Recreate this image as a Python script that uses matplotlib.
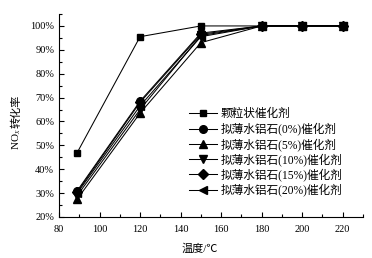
import matplotlib
matplotlib.use("Agg")
import matplotlib.pyplot as plt
from matplotlib.ticker import MultipleLocator, FuncFormatter

plt.rcParams['font.family'] = ['Liberation Serif', 'Noto Sans CJK SC', 'DejaVu Sans']
plt.rcParams['mathtext.fontset'] = 'stix'

temps = [89, 120, 150, 180, 200, 220]
labels = ['颗粒状催化剂', '拟薄水铝石(0%)催化剂', '拟薄水铝石(5%)催化剂',
          '拟薄水铝石(10%)催化剂', '拟薄水铝石(15%)催化剂', '拟薄水铝石(20%)催化剂']
granular = [47.0, 95.5, 100, 100, 100, 100]
pb0 = [31.0, 68.5, 97.0, 100, 100, 100]
pb5 = [27.5, 63.5, 93.0, 100, 100, 100]
pb10 = [29.0, 65.0, 96.0, 100, 100, 100]
pb15 = [30.5, 68.0, 96.5, 100, 100, 100]
pb20 = [30.0, 66.5, 95.5, 100, 100, 100]
series = [granular, pb0, pb5, pb10, pb15, pb20]
markers = ['s', 'o', '^', 'v', 'D', '<']
msizes = [5, 5.5, 5.5, 5.5, 5, 5.5]

W, H = 372, 258
fig = plt.figure(figsize=(W / 100, H / 100), dpi=100)
ax = fig.add_axes([59 / W, 1 - 217 / H, 304 / W, 203 / H])
for ys, lab, mk, ms in zip(series, labels, markers, msizes):
    ax.plot(temps, ys, color='black', lw=0.75, marker=mk, ms=ms, label=lab)

ax.set_xlim(80, 230)
ax.set_ylim(20, 105)
ax.xaxis.set_minor_locator(MultipleLocator(10))
ax.yaxis.set_major_locator(MultipleLocator(10))
ax.yaxis.set_minor_locator(MultipleLocator(5))
ax.yaxis.set_major_formatter(FuncFormatter(lambda v, p: f'{int(round(v))}%'))
ax.set_xticks([80, 100, 120, 140, 160, 180, 200, 220])
for s in ['top', 'right']:
    ax.spines[s].set_visible(False)
for s in ['left', 'bottom']:
    ax.spines[s].set_linewidth(0.8)
ax.tick_params(which='both', direction='in', labelsize=7.5, width=0.8)
ax.tick_params(axis='x', which='both', pad=6)
ax.tick_params(axis='y', which='both', pad=3.5)
ax.tick_params(which='major', length=3.5)
ax.tick_params(which='minor', length=2)

ax.set_xlabel('温度/℃', fontsize=8)
ax.xaxis.set_label_coords(0.464, -0.128)

fig.text(16.5 / W, 1 - 150 / H, 'NO$_{\\mathit{x}}$', rotation=90, ha='center',
         va='bottom', fontsize=8)
fig.text(16.5 / W, 1 - 128 / H, '转化率', rotation=90, ha='center',
         va='bottom', fontsize=8)

leg = ax.legend(loc='lower left', bbox_to_anchor=(0.4, 0.06), frameon=False,
                fontsize=8.4, handlelength=2.4, handletextpad=0.35,
                labelspacing=0.2, borderpad=0.2)

fig.savefig('out.png', dpi=100)
